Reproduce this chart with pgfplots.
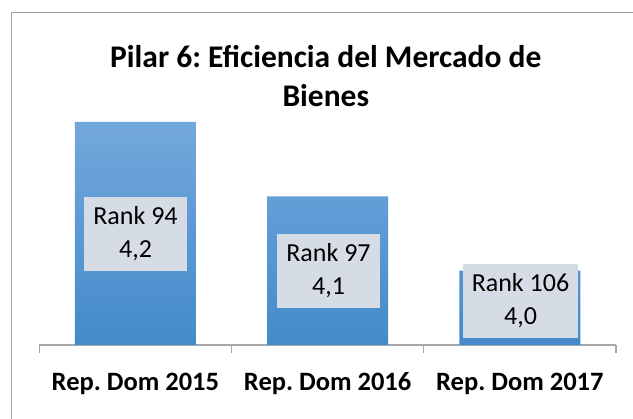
\documentclass[border=0pt]{standalone}
\usepackage{pgfplots}
\pgfplotsset{compat=1.18}
\usepackage{fontspec}
\setmainfont{Carlito}
\frenchspacing
\definecolor{bartop}{RGB}{115,168,220}
\definecolor{barbot}{RGB}{68,138,202}
\definecolor{boxfill}{RGB}{214,220,229}
\definecolor{axgray}{RGB}{166,166,166}
\definecolor{framegray}{RGB}{160,160,160}
\begin{document}
\begin{tikzpicture}
\path[use as bounding box] (-39.3pt,-74pt) rectangle (593.7pt,345pt);
\begin{scope}
\clip (-39.3pt,-74pt) rectangle (593.7pt,345pt);
\draw[framegray, line width=1.3pt] (-27.6pt,332.3pt) rectangle (700pt,-200pt);
\end{scope}
\begin{axis}[
  scale only axis,
  width=576.7pt, height=223pt,
  xmin=-0.5, xmax=2.5, ymin=3.9, ymax=4.2,
  axis x line*=bottom, axis y line=none,
  axis line style={axgray, line width=1.3pt},
  xtick={0,1,2},
  xticklabels={Rep. Dom 2015, Rep. Dom 2016, Rep. Dom 2017},
  major tick length=0pt,
  extra x ticks={-0.5,0.5,1.5,2.5},
  extra x tick labels={},
  extra x tick style={major tick length=8pt, tick align=outside, tick style={axgray, line width=1.3pt}},
  xticklabel style={font=\bfseries\fontsize{26.5}{30}\selectfont, anchor=base, yshift=-46pt},
  clip=false,
  ybar, bar width=121pt,
]
\addplot[draw=none, top color=bartop, bottom color=barbot] coordinates {(0,4.2) (1,4.1) (2,4.0)};
\end{axis}
\begin{scope}[every node/.style={fill=boxfill, align=center, inner xsep=9pt, minimum height=74pt, font=\fontsize{26}{33}\selectfont}]
\node at (96.2pt,111pt) {Rank 94\\4,2};
\node at (289.2pt,74pt) {Rank 97\\4,1};
\node at (481.2pt,44pt) {Rank 106\\4,0};
\end{scope}
\node[font=\bfseries\fontsize{31.5}{40}\selectfont, anchor=base] at (286.5pt,277pt) {Pilar 6: Eficiencia del Mercado de};
\node[font=\bfseries\fontsize{31.5}{40}\selectfont, anchor=base] at (286.5pt,238pt) {Bienes};
\end{tikzpicture}
\end{document}
